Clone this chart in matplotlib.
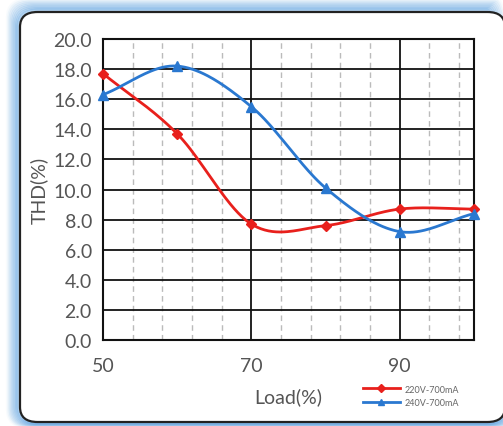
import numpy as np
import matplotlib
matplotlib.use("Agg")
import matplotlib.pyplot as plt
from matplotlib.patches import FancyBboxPatch
from matplotlib.lines import Line2D

loads = [50, 60, 70, 80, 90, 100]
thd_220 = [17.7, 13.7, 7.7, 7.6, 8.7, 8.7]
thd_240 = [16.3, 18.2, 15.5, 10.1, 7.2, 8.4]
series_names = ["220V-700mA", "240V-700mA"]
y_ticks = [0.0, 2.0, 4.0, 6.0, 8.0, 10.0, 12.0, 14.0, 16.0, 18.0, 20.0]
x_ticks = [50, 70, 90]

plt.rcParams['font.family'] = ['Lato', 'DejaVu Sans']

W, H = 503, 427
fig = plt.figure(figsize=(W / 100, H / 100), dpi=100)

def fx(px): return px / W
def fy(py): return 1 - py / H

# soft blue glow around the frame
for i, a in enumerate(np.linspace(0.04, 0.30, 9)):
    g = 12 - i * 1.3
    p = FancyBboxPatch((fx(20 - g), fy(423 + g * 0.4)), fx(485 + 2 * g), (410 + g * 1.4) / H,
                       boxstyle="round,pad=0,rounding_size=0.04", transform=fig.transFigure,
                       facecolor="none", edgecolor="#5aa0e0", linewidth=3, alpha=a, zorder=0)
    fig.patches.append(p)
frame = FancyBboxPatch((fx(20), fy(423)), fx(485), 410 / H,
                       boxstyle="round,pad=0,rounding_size=0.035", transform=fig.transFigure,
                       facecolor="white", edgecolor="#222222", linewidth=1.6, zorder=1)
fig.patches.append(frame)

ax = fig.add_axes([103 / W, (H - 341) / H, 371 / W, 301 / H])
ax.set_zorder(2)
ax.patch.set_alpha(0)


def smooth(xs, ys, n=40):
    xs = np.asarray(xs, float); ys = np.asarray(ys, float)
    P = np.column_stack([xs, ys])
    P = np.vstack([2 * P[0] - P[1], P, 2 * P[-1] - P[-2]])
    out = []
    for i in range(1, len(P) - 2):
        p0, p1, p2, p3 = P[i - 1], P[i], P[i + 1], P[i + 2]
        t = np.linspace(0, 1, n)[:, None]
        seg = 0.5 * ((2 * p1) + (-p0 + p2) * t + (2 * p0 - 5 * p1 + 4 * p2 - p3) * t ** 2
                     + (-p0 + 3 * p1 - 3 * p2 + p3) * t ** 3)
        out.append(seg)
    S = np.vstack(out)
    return S[:, 0], S[:, 1]


red = "#e8201c"
blue = "#2a78d0"
sx, sy = smooth(loads, thd_220)
ax.plot(sx, sy, color=red, lw=2, zorder=4, clip_on=False)
ax.plot(loads, thd_220, ls="none", marker="D", ms=5.5, color=red, zorder=5, clip_on=False)
sx, sy = smooth(loads, thd_240)
ax.plot(sx, sy, color=blue, lw=2, zorder=4, clip_on=False)
ax.plot(loads, thd_240, ls="none", marker="^", ms=7, color=blue, zorder=5, clip_on=False)

ax.set_xlim(50, 100)
ax.set_ylim(0, 20)
for y in y_ticks:
    ax.axhline(y, color="#111111", lw=1.3, zorder=2)
for x in x_ticks:
    ax.axvline(x, color="#111111", lw=1.3, zorder=2)
for x in np.arange(54, 100, 4):
    if x not in x_ticks:
        ax.axvline(x, color="#bbbbbb", lw=1.0, ls=(0, (4, 3)), zorder=1)

ax.set_yticks(y_ticks)
ax.set_yticklabels([f"{v:.1f}" for v in y_ticks], fontsize=14, color="#555555")
ax.set_xticks(x_ticks)
ax.set_xticklabels([str(v) for v in x_ticks], fontsize=14, color="#555555")
ax.tick_params(length=0, pad=8)
ax.tick_params(axis="x", pad=12)
for s in ax.spines.values():
    s.set_color("#111111")
    s.set_linewidth(1.5)

ax.set_xlabel("Load(%)", fontsize=14, color="#555555", labelpad=10)
ax.set_ylabel("THD(%)", fontsize=14, color="#555555", labelpad=4)

handles = [Line2D([], [], color=red, lw=2, marker="D", ms=4),
           Line2D([], [], color=blue, lw=2, marker="^", ms=5)]
leg = fig.legend(handles, series_names, loc="upper left",
                 bbox_to_anchor=(358 / W, 1 - 381 / H), frameon=False,
                 fontsize=6.5, handlelength=4.2, handletextpad=0.5, labelspacing=0.5,
                 borderpad=0, labelcolor="#666666")

fig.savefig("out.png", dpi=100)
